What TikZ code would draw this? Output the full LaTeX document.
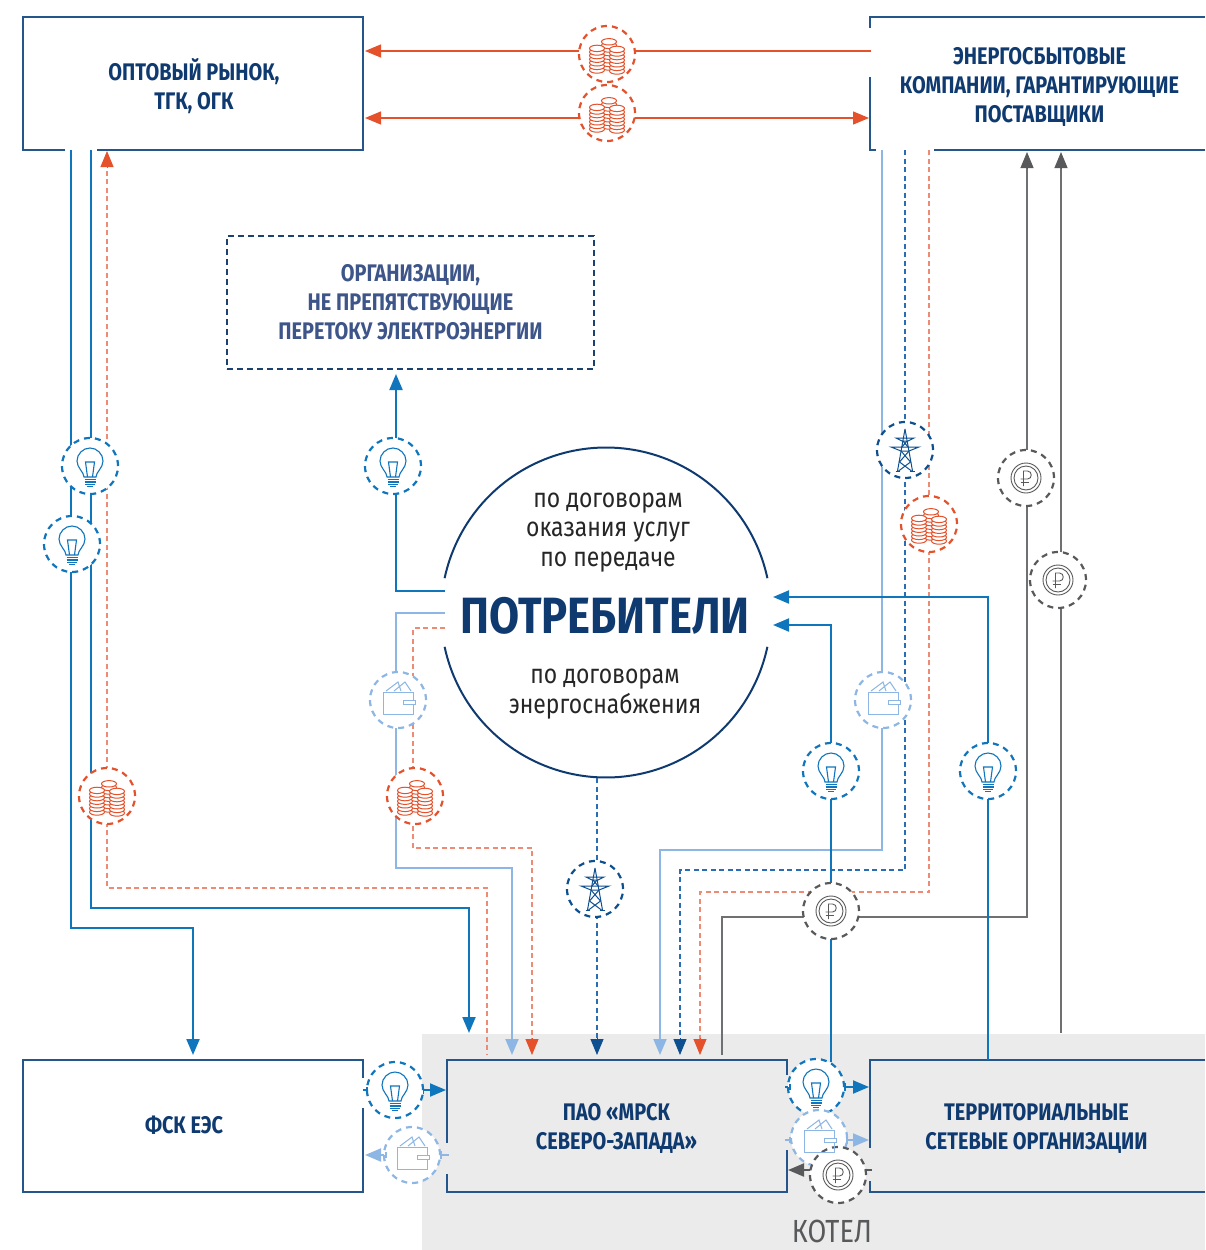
\documentclass[tikz,border=0pt]{standalone}
\usepackage{fontspec}
\usetikzlibrary{arrows.meta}
\setmainfont{Fira Sans}
\newfontfamily\dinbox[FakeStretch=0.83]{Fira Sans}
\newfontfamily\dinbig[FakeStretch=0.855]{Fira Sans}
\newfontfamily\dinreg[FakeStretch=0.85]{Fira Sans}
\definecolor{navy}{HTML}{0F3A70}
\definecolor{boxline}{HTML}{24568C}
\definecolor{orgtext}{HTML}{3D5589}
\definecolor{orgline}{HTML}{1C4070}
\definecolor{cblue}{HTML}{0F75BC}
\definecolor{clight}{HTML}{8DB6E4}
\definecolor{cdark}{HTML}{0D4F8F}
\definecolor{cdash}{HTML}{2A6DB5}
\definecolor{corange}{HTML}{E4512B}
\definecolor{corlight}{HTML}{EE8B74}
\definecolor{cgray}{HTML}{58595B}
\definecolor{cgrayline}{HTML}{6F7072}
\definecolor{bggray}{HTML}{EBEBEB}
\tikzset{
 x=1pt,y=-1pt,
 boxtext/.style={font=\dinbox\bfseries\fontsize{24}{29}\selectfont,text=navy,align=center,inner sep=0pt},
 bigbox/.style={minimum width=#1,minimum height=133pt,inner sep=0pt},
 boxborder/.style={draw=boxline,line width=1.3pt},
 iconc/.style={circle,minimum size=56pt,inner sep=0pt,fill=white,draw=#1,line width=2.2pt,dash pattern=on 6pt off 5pt},
 link/.style={draw=#1,line width=2pt},
 dlink/.style={draw=#1,line width=1.3pt,dash pattern=on 5pt off 3.5pt},
 tip/.style={-{Triangle[length=16pt,width=13pt,fill=#1,color=#1]}},
 tick/.style={draw=#1,line width=1.5pt},
 bulb/.pic={\begin{scope}[draw=#1,line width=1.1pt]
  \draw (-6,11) .. controls (-6,6) and (-13,2) .. (-13,-5) .. controls (-13,-12) and (-7,-18) .. (0,-18) .. controls (7,-18) and (13,-12) .. (13,-5) .. controls (13,2) and (6,6) .. (6,11) -- cycle;
  \draw (-2.5,11) -- (-4.5,-4) -- (4.5,-4) -- (2.5,11);
  \draw (-5.5,13.5) -- (5.5,13.5) (-5.5,16) -- (5.5,16) (-5,18.5) -- (5,18.5) (-3,20.5) -- (3,20.5);
 \end{scope}},
 wallet/.pic={\begin{scope}[draw=#1,line width=1pt]
  \draw (-15,-8) rectangle (15,14);
  \draw[fill=white] (5,0) rectangle (17,4);
  \draw (-12,-9) -- (0,-18) -- (3,-9) (-4,-9) -- (7,-18) -- (13,-9);
 \end{scope}},
 coins/.pic={\begin{scope}[draw=#1,line width=1pt,fill=white]
  \foreach \cx/\cb/\cn in {2/13/7,-10/16/6,10/17/6}{
   \foreach \ci in {0,...,\cn}{
    \draw[fill=white] (\cx,\cb-\ci*3.6) ellipse [x radius=7.5,y radius=3.2];
   }
  }
 \end{scope}},
 tower/.pic={\begin{scope}[draw=#1,line width=1pt]
  \draw (0,-21) -- (-7.5,21) (0,-21) -- (7.5,21);
  \draw (-9,-12) -- (9,-12) -- (3,-9) -- (-3,-9) -- cycle;
  \draw (-14,-3) -- (14,-3) -- (4,1) -- (-4,1) -- cycle;
  \draw (-4,1) -- (5.5,12) -- (-6.5,21) (4,1) -- (-5.5,12) -- (6.5,21);
  \draw (-2,-9) -- (3,-3) (2,-9) -- (-3,-3);
  \draw (-9.5,21) -- (-5,21) (5,21) -- (9.5,21);
 \end{scope}},
 rubleicon/.pic={\begin{scope}[draw=#1,line width=.9pt]
  \draw (0,0) circle [radius=15];
  \draw (0,0) circle [radius=12];
  \draw (-2.5,8) -- (-2.5,-7) -- (1.5,-7) .. controls (6.5,-7) and (6.5,1) .. (1.5,1) -- (-5.5,1);
  \draw (-5.5,4.3) -- (3,4.3);
 \end{scope}},
}
\begin{document}
\begin{tikzpicture}
\useasboundingbox (0,0) rectangle (1205,1250);
\fill[bggray] (422,1034) rectangle (1205,1250);
\node[font=\dinreg\fontsize{32}{32}\selectfont,text=cgray,inner sep=0pt] (kotel) at (832,1231) {КОТЕЛ};

% boxes
\node[bigbox=340pt,boxtext] (opt) at (194,86.5) {ОПТОВЫЙ РЫНОК,\\ТГК, ОГК};
\draw[boxborder] (65,150) -- (23,150) -- (23,17) -- (363,17) -- (363,150) -- (97,150);
\node[bigbox=335pt,boxtext] (esb) at (1039.5,86.5) {ЭНЕРГОСБЫТОВЫЕ\\КОМПАНИИ, ГАРАНТИРУЮЩИЕ\\ПОСТАВЩИКИ};
\draw[boxborder] (1205,150) -- (934,150) (876,150) -- (870,150) -- (870,77) (870,28) -- (870,17) -- (1205,17);
\node[minimum width=367pt,minimum height=133pt,draw=orgline,line width=1.5pt,dash pattern=on 6pt off 4pt,boxtext,text=orgtext] (org) at (410.5,302.5) {ОРГАНИЗАЦИИ,\\НЕ ПРЕПЯТСТВУЮЩИЕ\\ПЕРЕТОКУ ЭЛЕКТРОЭНЕРГИИ};
\node[bigbox=340pt,boxtext] (fsk) at (184,1125) {ФСК ЕЭС};
\draw[boxborder] (363,1078) -- (363,1060) -- (23,1060) -- (23,1192) -- (363,1192) -- (363,1108);
\node[bigbox=340pt,boxtext] (mrsk) at (616.5,1128) {ПАО «МРСК\\СЕВЕРО-ЗАПАДА»};
\draw[boxborder] (787,1075) -- (787,1060) -- (447,1060) -- (447,1143) (447,1174) -- (447,1192) -- (787,1192) -- (787,1150);
\node[bigbox=335pt,boxtext] (tso) at (1036.5,1128) {ТЕРРИТОРИАЛЬНЫЕ\\СЕТЕВЫЕ ОРГАНИЗАЦИИ};
\draw[boxborder] (1205,1060) -- (870,1060) -- (870,1148) (870,1181) -- (870,1192) -- (1205,1192);

% consumers
\node[circle,minimum size=330pt,inner sep=0pt] (cons) at (606,612.5) {};
\draw[navy,line width=2pt] plot[domain=12:168,samples=90] ({606+165*cos(\x)},{612.5-165*sin(\x)});
\draw[navy,line width=2pt] plot[domain=192:348,samples=90] ({606+165*cos(\x)},{612.5-165*sin(\x)});
\node[font=\dinreg\fontsize{27}{29.5}\selectfont,text=black!85,align=center,inner sep=0pt] (t1) at (608,532.5) {по договорам\\оказания услуг\\по передаче};
\node[font=\dinbig\bfseries\fontsize{51}{51}\selectfont,text=navy,inner sep=0pt] (t2) at (605,616) {ПОТРЕБИТЕЛИ};
\node[font=\dinreg\fontsize{27}{29.5}\selectfont,text=black!85,align=center,inner sep=0pt] (t3) at (605,694) {по договорам\\энергоснабжения};
\coordinate (c1) at (445,591);
\coordinate (c2) at (445,613);
\coordinate (c3) at (445,628);
\coordinate (c4) at (773,597);
\coordinate (c5) at (773,625);
\coordinate (c6) at (597,778);
\coordinate (o1) at (71,150);
\coordinate (o2) at (91,150);
\coordinate (e1s) at (882,150);
\coordinate (e2s) at (905,150);
\coordinate (e3s) at (929,150);
\coordinate (t1s) at (988,1060);

% connectors
\draw[link=cblue,tip=cblue] (o1) -- (71,928) -- (193,928) -- (193,1055);
\draw[link=cblue,tip=cblue] (o2) -- (91,908) -- (469,908) -- (469,1033);
\draw[dlink=corlight] (107,796) -- (107,888) -- (487,888) -- (487,1055);
\draw[dlink=corlight] (107,796) -- (107,165);
\draw[draw=corange,line width=1pt,tip=corange] (107,168) -- (107,151);
\draw[link=clight,tip=clight] (c2) -- (396,613) -- (396,868) -- (512,868) -- (512,1055);
\draw[dlink=corlight] (c3) -- (413,628) -- (413,848) -- (532,848) -- (532,1040);
\draw[draw=corange,line width=1pt,tip=corange] (532,1038) -- (532,1055);
\draw[link=cblue,tip=cblue] (c1) -- (396,591) -- (396,374);
\draw[dlink=cdash] (c6) -- (597,1040);
\draw[draw=cdark,line width=1pt,tip=cdark] (597,1038) -- (597,1055);
\draw[link=clight,tip=clight] (e1s) -- (882,850) -- (660,850) -- (660,1055);
\draw[dlink=cdash] (e2s) -- (905,870) -- (680,870) -- (680,1040);
\draw[draw=cdark,line width=1pt,tip=cdark] (680,1038) -- (680,1055);
\draw[dlink=corlight] (e3s) -- (929,892) -- (700,892) -- (700,1040);
\draw[draw=corange,line width=1pt,tip=corange] (700,1038) -- (700,1055);
\draw[draw=cgrayline,line width=2pt] (722,1055) -- (722,917) -- (1027,917) -- (1027,165);
\draw[draw=cgray,line width=1pt,tip=cgray] (1027,168) -- (1027,152);
\draw[draw=cgrayline,line width=2pt] (1061,1033) -- (1061,165);
\draw[draw=cgray,line width=1pt,tip=cgray] (1061,168) -- (1061,152);
\draw[link=cblue,tip=cblue] (831,1062) -- (831,625) -- (c5);
\draw[link=cblue,tip=cblue] (t1s) -- (988,597) -- (c4);
\draw[link=corange,line width=1.4pt,tip=corange] (871,51) -- (365,51);
\draw[link=corange,line width=1.4pt,{Triangle[length=16pt,width=13pt,color=corange]}-{Triangle[length=16pt,width=13pt,color=corange]}] (365,118) -- (869,118);
\draw[link=cblue,tip=cblue] (363,1090) -- (446,1090);
\draw[link=clight,tip=clight] (449,1155) -- (365,1155);
\draw[link=cblue,tip=cblue] (785,1087) -- (869,1087);
\draw[link=clight,tip=clight] (785,1140) -- (869,1140);
\draw[link=cgray,tip=cgray] (872,1170) -- (788,1170);

% icons
\node[iconc=cblue] (b1) at (90,466) {};
\node[iconc=cblue] (b2) at (72,544) {};
\node[iconc=cblue] (b3) at (393,466) {};
\node[iconc=cblue] (b4) at (831,771) {};
\node[iconc=cblue] (b5) at (988,771) {};
\node[iconc=cblue] (b6) at (395,1090) {};
\node[iconc=clight] (w1) at (398,700) {};
\node[iconc=clight] (w2) at (883,700) {};
\node[iconc=clight] (w3) at (412,1155) {};
\node[iconc=corange] (m1) at (607,54) {};
\node[iconc=corange] (m2) at (607,113) {};
\node[iconc=corange] (m3) at (107,796) {};
\node[iconc=corange] (m4) at (415,796) {};
\node[iconc=corange] (m5) at (929,524) {};
\node[iconc=cdark] (e1) at (905,450) {};
\node[iconc=cdark] (e2) at (595,889) {};
\node[iconc=cgray] (r1) at (1026,478) {};
\node[iconc=cgray] (r2) at (1058,580) {};
\node[iconc=cgray] (r3) at (831,911) {};
\node[iconc=cblue] (b7) at (816,1087) {};
\node[iconc=clight] (w4) at (819,1138) {};
\node[iconc=cgray] (r4) at (838,1175) {};

\foreach \n in {b1,b2,b3,b4,b5,b6,b7} \pic at (\n) {bulb=cblue};
\foreach \n in {w1,w2,w3,w4} \pic at (\n) {wallet=clight};
\foreach \n in {m1,m2,m3,m4,m5} \pic at (\n) {coins=corange};
\foreach \n in {e1,e2} \pic at (\n) {tower=cdark};
\foreach \n in {r1,r2,r3,r4} \pic at (\n) {rubleicon=cgray};

% end bars
\draw[tick=cblue] (367,1087) -- (367,1093) (423.5,1086) -- (423.5,1094);
\draw[tick=clight] (386,1152) -- (386,1158) (441,1151) -- (441,1159);
\draw[tick=cblue] (790,1084) -- (790,1090) (845,1083) -- (845,1091);
\draw[tick=clight] (790,1137) -- (790,1143) (847,1136) -- (847,1144);
\end{tikzpicture}
\end{document}
